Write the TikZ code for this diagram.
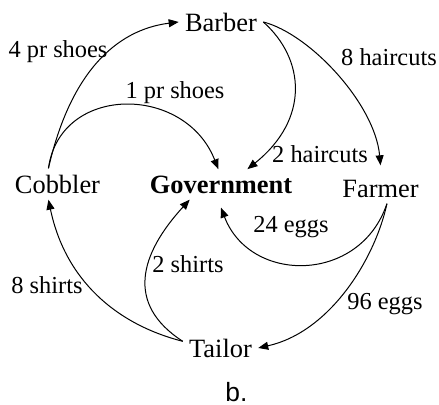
\documentclass[tikz,border=0pt]{standalone}
\usepackage{fontspec}
\setmainfont{Liberation Serif}
\newfontfamily\captionsans{Liberation Sans}
\usepackage{tikz}
\usetikzlibrary{arrows.meta}

\begin{document}
\begin{tikzpicture}[x=0.5pt, y=0.5pt,
    trade/.style={inner sep=3pt, anchor=base, font=\fontsize{13.2}{15}\selectfont},
    amount/.style={inner sep=0pt, font=\fontsize{12.2}{14}\selectfont},
    flow/.style={line width=0.5pt, -{Triangle[length=5pt, width=4pt]}}]
    \useasboundingbox (0,0) rectangle (439,404);

    % the four trades and the government
    \node[trade] (barber) at (221,373) {Barber};
    \node[trade] (cobbler) at (57.5,211) {Cobbler};
    \node[trade, font=\fontsize{13.2}{15}\selectfont\bfseries] (gov) at (221,211) {Government};
    \node[trade] (farmer) at (380.5,207) {Farmer};
    \node[trade] (tailor) at (220.5,47) {Tailor};

    % shoes from the cobbler
    \draw[flow] (cobbler.120) .. controls (70,330) and (115,374) .. (barber.west);
    \node[amount] (shoesB) at (58,352) {4 pr shoes};
    \draw[flow] (cobbler.120) .. controls (60,320) and (185,320) .. (gov.100);
    \node[amount] (shoesG) at (175,311) {1 pr shoes};

    % haircuts from the barber
    \draw[flow] (barber.east) .. controls (305,345) and (310,285) .. (gov.30);
    \node[amount] (cutsG) at (320,250) {2 haircuts};
    \draw[flow] (barber.east) .. controls (310,370) and (375,300) .. ([yshift=4pt]farmer.north);
    \node[amount] (cutsF) at (389,347) {8 haircuts};

    % eggs from the farmer
    \draw[flow] (farmer.293) .. controls (360,120) and (250,120) .. ([yshift=-4pt]gov.south);
    \node[amount] (eggsG) at (291,177) {24 eggs};
    \draw[flow] (farmer.293) .. controls (375,145) and (330,72) .. (tailor.east);
    \node[amount] (eggsT) at (385,100) {96 eggs};

    % shirts from the tailor
    \draw[flow] (tailor.170) .. controls (115,80) and (65,125) .. (cobbler.240);
    \node[amount] (shirtsC) at (47,119) {8 shirts};
    \draw[flow] (tailor.170) .. controls (125,100) and (140,150) .. (gov.206);
    \node[amount] (shirtsG) at (188,140) {2 shirts};

    \node[anchor=base, inner sep=0pt, font=\captionsans\fontsize{13.2}{15}\selectfont] (caption) at (236.5,3) {b.};
\end{tikzpicture}
\end{document}
